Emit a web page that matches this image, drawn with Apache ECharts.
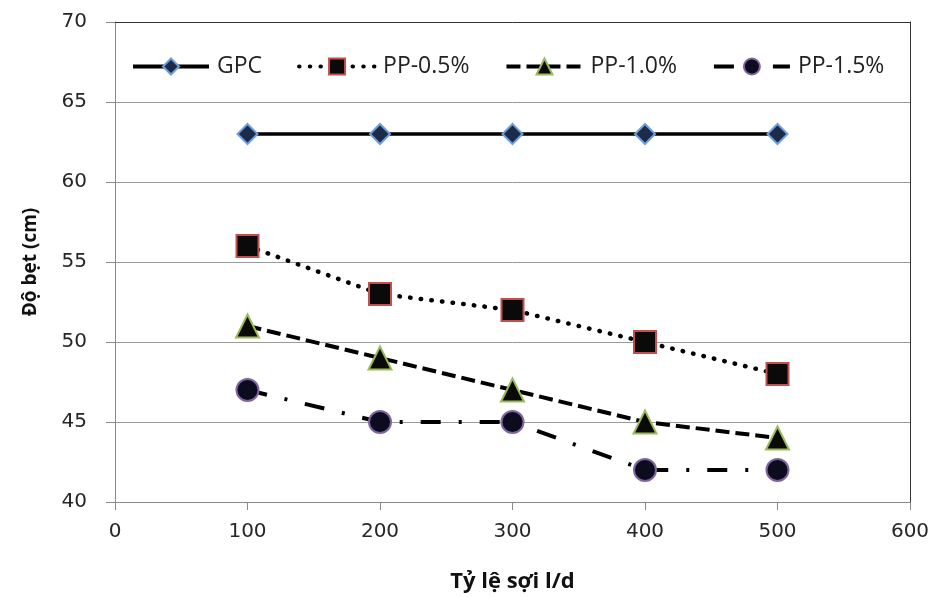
<!DOCTYPE html>
<html>
<head>
<meta charset="utf-8">
<script src="https://cdn.jsdelivr.net/npm/echarts@6/dist/echarts.min.js"></script>
<style>
html,body{margin:0;padding:0;background:#fff;overflow:hidden;}
#chart{width:933px;height:598px;}
</style>
</head>
<body>
<div id="chart"></div>
<script>
// Data
var xValues = [100, 200, 300, 400, 500];
var seriesNames = ['GPC', 'PP-0.5%', 'PP-1.0%', 'PP-1.5%'];
var gpc = [63, 63, 63, 63, 63];
var pp05 = [56, 53, 52, 50, 48];
var pp10 = [51, 49, 47, 45, 44];
var pp15 = [47, 45, 45, 42, 42];
var xTitle = 'Tỷ lệ sợi l/d';
var yTitle = 'Độ bẹt (cm)';

function pairs(vals) { return xValues.map(function (x, i) { return [x, vals[i]]; }); }

var chart = echarts.init(document.getElementById('chart'), null, {renderer: 'canvas'});
var tickFont = {fontFamily: 'DejaVu Sans', fontSize: 20, color: '#262626'};

var option = {
  animation: false,
  backgroundColor: '#ffffff',
  grid: {left: 115, right: 23, top: 22, height: 484, containLabel: false},
  legend: {
    top: 55, left: 131, padding: 0,
    itemWidth: 76, itemHeight: 20, itemGap: 35,
    lineStyle: {width: 4},
    textStyle: {fontFamily: 'Open Sans', fontSize: 23, color: '#222', padding: [0, 0, 0, 3]},
    data: seriesNames
  },
  xAxis: [{
    type: 'value', min: 0, max: 600, interval: 100,
    name: xTitle, nameLocation: 'middle', nameGap: 69,
    nameTextStyle: {fontFamily: 'Open Sans', fontWeight: 'bold', fontSize: 22, color: '#111'},
    axisLine: {show: true, lineStyle: {color: '#8a8a8a', width: 1}},
    axisTick: {show: true, inside: false, length: 8, lineStyle: {color: '#8a8a8a'}},
    axisLabel: Object.assign({margin: 20}, tickFont),
    splitLine: {show: false}
  }, {
    type: 'value', min: 0, max: 600, interval: 100, position: 'top',
    axisLine: {show: true, onZero: false, lineStyle: {color: '#333', width: 1}},
    axisTick: {show: false}, axisLabel: {show: false}, splitLine: {show: false}
  }],
  yAxis: [{
    type: 'value', min: 40, max: 70, interval: 5,
    name: yTitle, nameLocation: 'middle', nameGap: 75, nameRotate: 90,
    nameTextStyle: {fontFamily: 'Open Sans', fontWeight: 'bold', fontSize: 19, color: '#111'},
    axisLine: {show: true, lineStyle: {color: '#8a8a8a', width: 1}},
    axisTick: {show: true, inside: false, length: 9, lineStyle: {color: '#8a8a8a'}},
    axisLabel: Object.assign({margin: 28}, tickFont),
    splitLine: {show: true, lineStyle: {color: '#9a9a9a', width: 1}}
  }, {
    type: 'value', min: 40, max: 70, interval: 5, position: 'right',
    axisLine: {show: true, onZero: false, lineStyle: {color: '#333', width: 1}},
    axisTick: {show: false}, axisLabel: {show: false}, splitLine: {show: false}
  }],
  series: [
    {
      name: seriesNames[0], type: 'line', data: pairs(gpc),
      symbol: 'diamond', symbolSize: 20,
      lineStyle: {color: '#000', width: 3.5, type: 'solid'},
      itemStyle: {color: '#1c2b4a', borderColor: '#6f9fd8', borderWidth: 2},
      z: 3
    },
    {
      name: seriesNames[1], type: 'line', data: pairs(pp05),
      symbol: 'rect', symbolSize: 22,
      lineStyle: {color: '#000', width: 4.5, type: [0.5, 10.2], cap: 'round'},
      itemStyle: {color: '#0a0a0a', borderColor: '#c0504d', borderWidth: 2},
      z: 3
    },
    {
      name: seriesNames[2], type: 'line', data: pairs(pp10),
      symbol: 'triangle', symbolSize: 23,
      lineStyle: {color: '#000', width: 4, type: [14, 6]},
      itemStyle: {color: '#0a0a0a', borderColor: '#9bbb59', borderWidth: 2},
      z: 3
    },
    {
      name: seriesNames[3], type: 'line', data: pairs(pp15),
      symbol: 'circle', symbolSize: 22,
      lineStyle: {color: '#000', width: 4, type: [20, 18, 3, 18]},
      itemStyle: {color: '#0c0c1e', borderColor: '#8064a2', borderWidth: 2},
      z: 3
    }
  ]
};
chart.setOption(option);
</script>
</body>
</html>
